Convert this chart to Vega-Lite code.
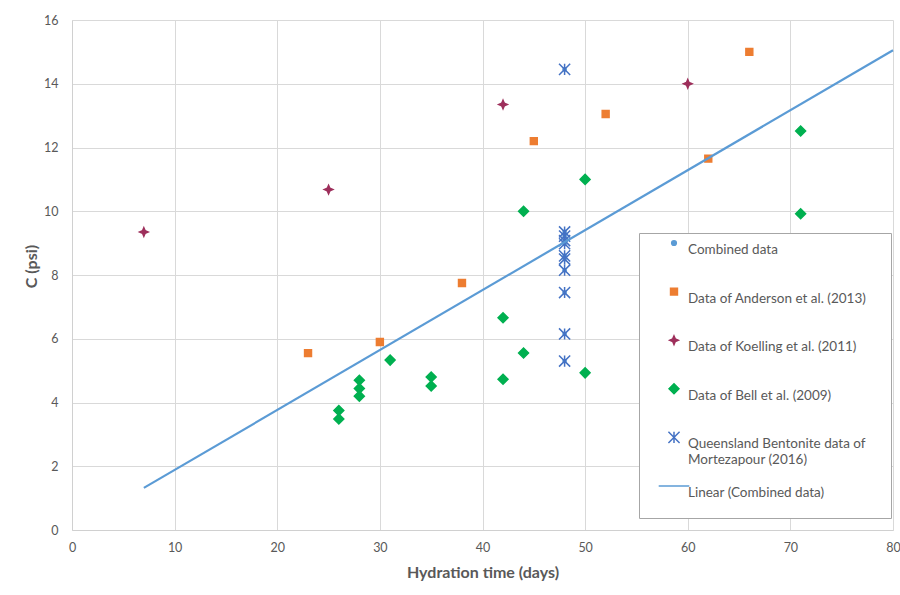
{
  "$schema": "https://vega.github.io/schema/vega-lite/v6.json",
  "width": 821,
  "height": 510,
  "autosize": {"type": "none"},
  "padding": {"left": 72, "top": 20, "right": 7, "bottom": 65},
  "background": "white",
  "config": {
    "font": "Lato",
    "view": {"stroke": null},
    "axis": {
      "labelFont": "Lato",
      "labelFontSize": 12.5,
      "labelColor": "#595959",
      "labelFlush": false,
      "titleFont": "Lato",
      "titleFontSize": 16,
      "titleFontWeight": "bold",
      "titleColor": "#595959",
      "gridColor": "#d9d9d9",
      "gridWidth": 1,
      "domainColor": "#d0d0d0",
      "ticks": false
    }
  },
  "datasets": {
    "pts": [
      {"series": "Data of Koelling et al. (2011)", "days": 7, "C": 9.35},
      {"series": "Data of Koelling et al. (2011)", "days": 25, "C": 10.68},
      {"series": "Data of Koelling et al. (2011)", "days": 42, "C": 13.35},
      {"series": "Data of Koelling et al. (2011)", "days": 60, "C": 14.0},
      {"series": "Data of Anderson et al. (2013)", "days": 23, "C": 5.55},
      {"series": "Data of Anderson et al. (2013)", "days": 30, "C": 5.9},
      {"series": "Data of Anderson et al. (2013)", "days": 38, "C": 7.75},
      {"series": "Data of Anderson et al. (2013)", "days": 45, "C": 12.2},
      {"series": "Data of Anderson et al. (2013)", "days": 52, "C": 13.05},
      {"series": "Data of Anderson et al. (2013)", "days": 62, "C": 11.65},
      {"series": "Data of Anderson et al. (2013)", "days": 66, "C": 15.0},
      {"series": "Data of Bell et al. (2009)", "days": 26, "C": 3.75},
      {"series": "Data of Bell et al. (2009)", "days": 26, "C": 3.48},
      {"series": "Data of Bell et al. (2009)", "days": 28, "C": 4.7},
      {"series": "Data of Bell et al. (2009)", "days": 28, "C": 4.44},
      {"series": "Data of Bell et al. (2009)", "days": 28, "C": 4.2},
      {"series": "Data of Bell et al. (2009)", "days": 31, "C": 5.33},
      {"series": "Data of Bell et al. (2009)", "days": 35, "C": 4.8},
      {"series": "Data of Bell et al. (2009)", "days": 35, "C": 4.52},
      {"series": "Data of Bell et al. (2009)", "days": 42, "C": 6.66},
      {"series": "Data of Bell et al. (2009)", "days": 42, "C": 4.73},
      {"series": "Data of Bell et al. (2009)", "days": 44, "C": 5.55},
      {"series": "Data of Bell et al. (2009)", "days": 44, "C": 10.0},
      {"series": "Data of Bell et al. (2009)", "days": 50, "C": 11.0},
      {"series": "Data of Bell et al. (2009)", "days": 50, "C": 4.93},
      {"series": "Data of Bell et al. (2009)", "days": 71, "C": 12.52},
      {"series": "Data of Bell et al. (2009)", "days": 71, "C": 9.92},
      {"series": "Queensland Bentonite data of Mortezapour (2016)", "days": 48, "C": 14.45},
      {"series": "Queensland Bentonite data of Mortezapour (2016)", "days": 48, "C": 9.35},
      {"series": "Queensland Bentonite data of Mortezapour (2016)", "days": 48, "C": 9.22},
      {"series": "Queensland Bentonite data of Mortezapour (2016)", "days": 48, "C": 9.08},
      {"series": "Queensland Bentonite data of Mortezapour (2016)", "days": 48, "C": 8.98},
      {"series": "Queensland Bentonite data of Mortezapour (2016)", "days": 48, "C": 8.6},
      {"series": "Queensland Bentonite data of Mortezapour (2016)", "days": 48, "C": 8.5},
      {"series": "Queensland Bentonite data of Mortezapour (2016)", "days": 48, "C": 8.15},
      {"series": "Queensland Bentonite data of Mortezapour (2016)", "days": 48, "C": 7.45},
      {"series": "Queensland Bentonite data of Mortezapour (2016)", "days": 48, "C": 6.15},
      {"series": "Queensland Bentonite data of Mortezapour (2016)", "days": 48, "C": 5.3}
    ],
    "trend": [
      {"days": 7, "C": 1.32},
      {"days": 80, "C": 15.05}
    ]
  },
  "encoding": {
    "x": {
      "field": "days",
      "type": "quantitative",
      "scale": {"domain": [0, 80], "nice": false},
      "axis": {"values": [0, 10, 20, 30, 40, 50, 60, 70, 80], "title": "Hydration time (days)", "labelPadding": 11, "titlePadding": 11}
    },
    "y": {
      "field": "C",
      "type": "quantitative",
      "scale": {"domain": [0, 16], "nice": false},
      "axis": {"values": [0, 2, 4, 6, 8, 10, 12, 14, 16], "title": "C (psi)", "labelPadding": 14, "titlePadding": 4, "titleY": 246}
    }
  },
  "layer": [
    {
      "data": {"name": "pts"},
      "mark": {"type": "point", "filled": true, "shape": "circle", "size": 22, "color": "#5b9bd5", "opacity": 1}
    },
    {
      "data": {"name": "pts"},
      "mark": {"type": "point", "filled": true, "opacity": 1, "strokeWidth": 1.5},
      "encoding": {
        "color": {
          "field": "series",
          "type": "nominal",
          "scale": {
            "domain": ["Combined data", "Data of Anderson et al. (2013)", "Data of Koelling et al. (2011)", "Data of Bell et al. (2009)", "Queensland Bentonite data of Mortezapour (2016)", "Linear (Combined data)"],
            "range": ["#5b9bd5", "#ed7d31", "#9e2f5b", "#00b050", "#4472c4", "#5b9bd5"]
          },
          "legend": {
            "title": null,
            "orient": "none",
            "legendX": 567,
            "legendY": 213,
            "direction": "vertical",
            "fillColor": "white",
            "strokeColor": "#a6a6a6",
            "padding": 3,
            "clipHeight": 14,
            "rowPadding": 12.6,
            "symbolOffset": 25,
            "labelOffset": 7,
            "labelFont": "Lato",
            "labelFontSize": 13.5,
            "labelColor": "#595959",
            "labelLimit": 400,
            "labelBaseline": "top",
            "labelExpr": "datum.label === 'Queensland Bentonite data of Mortezapour (2016)' ? ['Queensland Bentonite data of', 'Mortezapour (2016)'] : [datum.label, pad('', 20, '\u2800')]",
            "encode": {
              "labels": {
                "update": {
                  "dy": {"value": -7},
                  "lineHeight": {"value": 17}
                }
              },
              "symbols": {
                "update": {
                  "stroke": {"scale": "color", "field": "value"},
                  "strokeWidth": {"signal": "datum.value === 'Linear (Combined data)' ? 2 : 1.2"},
                  "size": {"signal": "datum.value === 'Linear (Combined data)' ? 100 : datum.value === 'Combined data' ? 28 : 70"}
                }
              }
            }
          }
        },
        "shape": {
          "field": "series",
          "type": "nominal",
          "scale": {
            "domain": ["Combined data", "Data of Anderson et al. (2013)", "Data of Koelling et al. (2011)", "Data of Bell et al. (2009)", "Queensland Bentonite data of Mortezapour (2016)", "Linear (Combined data)"],
            "range": ["circle", "square", "M0,-1L0.3,-0.3L1,0L0.3,0.3L0,1L-0.3,0.3L-1,0L-0.3,-0.3Z", "diamond", "M-1,-1L1,1M-1,1L1,-1M0,-1L0,1", "M-2.5,0L2.5,0"]
          }
        },
        "stroke": {
          "field": "series",
          "type": "nominal",
          "scale": {
            "domain": ["Combined data", "Data of Anderson et al. (2013)", "Data of Koelling et al. (2011)", "Data of Bell et al. (2009)", "Queensland Bentonite data of Mortezapour (2016)", "Linear (Combined data)"],
            "range": ["#5b9bd5", "#ed7d31", "#9e2f5b", "#00b050", "#4472c4", "#5b9bd5"]
          },
          "legend": null
        },
        "size": {
          "field": "series",
          "type": "nominal",
          "scale": {
            "domain": ["Combined data", "Data of Anderson et al. (2013)", "Data of Koelling et al. (2011)", "Data of Bell et al. (2009)", "Queensland Bentonite data of Mortezapour (2016)", "Linear (Combined data)"],
            "range": [22, 150, 90, 110, 80, 0]
          },
          "legend": null
        }
      }
    },
    {
      "data": {"name": "trend"},
      "mark": {"type": "line", "color": "#5b9bd5", "strokeWidth": 2.2},
      "encoding": {}
    }
  ]
}
